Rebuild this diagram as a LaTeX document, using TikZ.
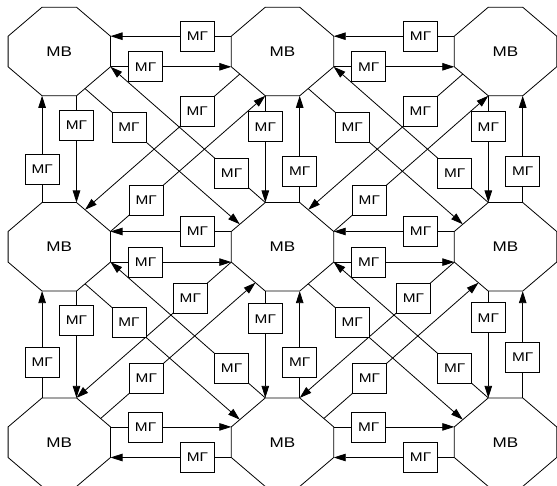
\documentclass[tikz,border=0pt]{standalone}
\usepackage{graphicx}
\usepackage{fontspec}
\setmainfont{Liberation Sans}
\usetikzlibrary{arrows.meta,calc}

% octagon half sizes: width, height, half top edge, half side edge
\def\oW{51.2}
\def\oH{44.3}
\def\oa{17.2}
\def\ob{15.3}

% labels are set a little wider than the plain face
\newcommand\widetext[1]{\scalebox{1.22}[1]{#1}}

\tikzset{
  mv/.style={inner sep=0pt, font=\fontsize{14}{14}\selectfont},
  mg/.style={draw, fill=white, line width=0.8pt, minimum width=34pt, minimum height=30pt,
             inner sep=0pt, font=\fontsize{12.6}{12.6}\selectfont},
  link/.style={line width=0.8pt, -{Triangle[length=12pt,width=7.5pt]}},
  outline/.style={line width=0.8pt, line join=miter},
}

% a processor node МВ with its octagonal outline and named corners
\newcommand\mvoct[3]{%
  \node[mv] (#1) at (#2,#3) {\widetext{МВ}};
  \coordinate (#1-tl) at ($(#1)+(-\oa,-\oH)$);
  \coordinate (#1-tr) at ($(#1)+(\oa,-\oH)$);
  \coordinate (#1-rt) at ($(#1)+(\oW,-\ob)$);
  \coordinate (#1-rb) at ($(#1)+(\oW,\ob)$);
  \coordinate (#1-br) at ($(#1)+(\oa,\oH)$);
  \coordinate (#1-bl) at ($(#1)+(-\oa,\oH)$);
  \coordinate (#1-lb) at ($(#1)+(-\oW,\ob)$);
  \coordinate (#1-lt) at ($(#1)+(-\oW,-\ob)$);
  \draw[outline] (#1-tl) -- (#1-tr) -- (#1-rt) -- (#1-rb) -- (#1-br)
                 -- (#1-bl) -- (#1-lb) -- (#1-lt) -- cycle;
}

\begin{document}
\begin{tikzpicture}[x=1pt, y=-1pt]
  \useasboundingbox (0,0) rectangle (557,486);
  \clip (0,0) rectangle (557,486);

  % processors
  \foreach \r/\y in {0/51.5, 1/246.8, 2/442.2}
    \foreach \c/\x in {0/59.3, 1/282.5, 2/505.5}
      {\mvoct{o\r\c}{\x}{\y}}

  % horizontal links, upper and middle rows: leftward on top, rightward below
  \foreach \r in {0,1}
    \foreach \c/\n in {0/1, 1/2} {
      \draw[link] (o\r\n-lt) -- coordinate[pos=0.28] (h\r\c-a) (o\r\c-rt);
      \draw[link] (o\r\c-rb) -- coordinate[pos=0.29] (h\r\c-b) (o\r\n-lb);
    }
  % horizontal links, lower row: rightward on top, leftward below
  \foreach \c/\n in {0/1, 1/2} {
    \draw[link] (o2\c-rt) -- coordinate[pos=0.29] (h2\c-a) (o2\n-lt);
    \draw[link] (o2\n-lb) -- coordinate[pos=0.28] (h2\c-b) (o2\c-rb);
  }

  % vertical links, first column
  \foreach \r/\n/\pd/\pu in {0/1/0.276/0.314, 1/2/0.27/0.33} {
    \draw[link] (o\r0-br) -- coordinate[pos=\pd] (v\r0-a) (o\n0-tr);
    \draw[link] (o\n0-tl) -- coordinate[pos=\pu] (v\r0-b) (o\r0-bl);
  }
  % vertical links, second and third columns
  \foreach \r/\n/\c/\pd/\pu in {0/1/1/0.29/0.29, 0/1/2/0.29/0.29,
                                1/2/1/0.26/0.33, 1/2/2/0.25/0.38} {
    \draw[link] (o\r\c-bl) -- coordinate[pos=\pd] (v\r\c-a) (o\n\c-tl);
    \draw[link] (o\n\c-tr) -- coordinate[pos=\pu] (v\r\c-b) (o\r\c-br);
  }

  % diagonal links, upper cells
  \foreach \c/\n in {0/1, 1/2} {
    \draw[link] ($(o0\c-rb)!0.75!(o0\c-br)$) -- coordinate[pos=0.284] (d0\c-a)
                ($(o1\n-lt)!0.25!(o1\n-tl)$);
    \draw[link] (o1\n-tl) -- coordinate[pos=0.218] (d0\c-b) (o0\c-rb);
    \draw[link] ($(o0\n-lb)!0.25!(o0\n-bl)$) -- coordinate[pos=0.275] (d0\c-c)
                ($(o1\c-tr)!0.25!(o1\c-rt)$);
    \draw[link] (o1\c-rt) -- coordinate[pos=0.23] (d0\c-d) (o0\n-bl);
  }
  % diagonal links, lower cells
  \foreach \c/\n in {0/1, 1/2} {
    \draw[link] ($(o1\c-rb)!0.75!(o1\c-br)$) -- coordinate[pos=0.284] (d1\c-a)
                ($(o2\n-lt)!0.25!(o2\n-tl)$);
    \draw[link] (o2\n-tl) -- coordinate[pos=0.218] (d1\c-b) (o1\c-rb);
    \draw[link] (o1\n-lb) -- coordinate[pos=0.265] (d1\c-c) (o2\c-tr);
    \draw[link] ($(o2\c-tr)!0.71!(o2\c-rt)$) -- coordinate[pos=0.295] (d1\c-d)
                ($(o1\n-lb)!0.71!(o1\n-bl)$);
  }

  % МГ units on every link
  \foreach \r in {0,1,2}
    \foreach \c in {0,1}
      \foreach \s in {a,b}
        {\node[mg] (gh\r\c\s) at (h\r\c-\s) {\widetext{МГ}};}
  \foreach \r in {0,1}
    \foreach \c in {0,1,2}
      \foreach \s in {a,b}
        {\node[mg] (gv\r\c\s) at (v\r\c-\s) {\widetext{МГ}};}
  \foreach \r in {0,1}
    \foreach \c in {0,1}
      \foreach \s in {a,b,c,d}
        {\node[mg] (gd\r\c\s) at (d\r\c-\s) {\widetext{МГ}};}
\end{tikzpicture}
\end{document}
